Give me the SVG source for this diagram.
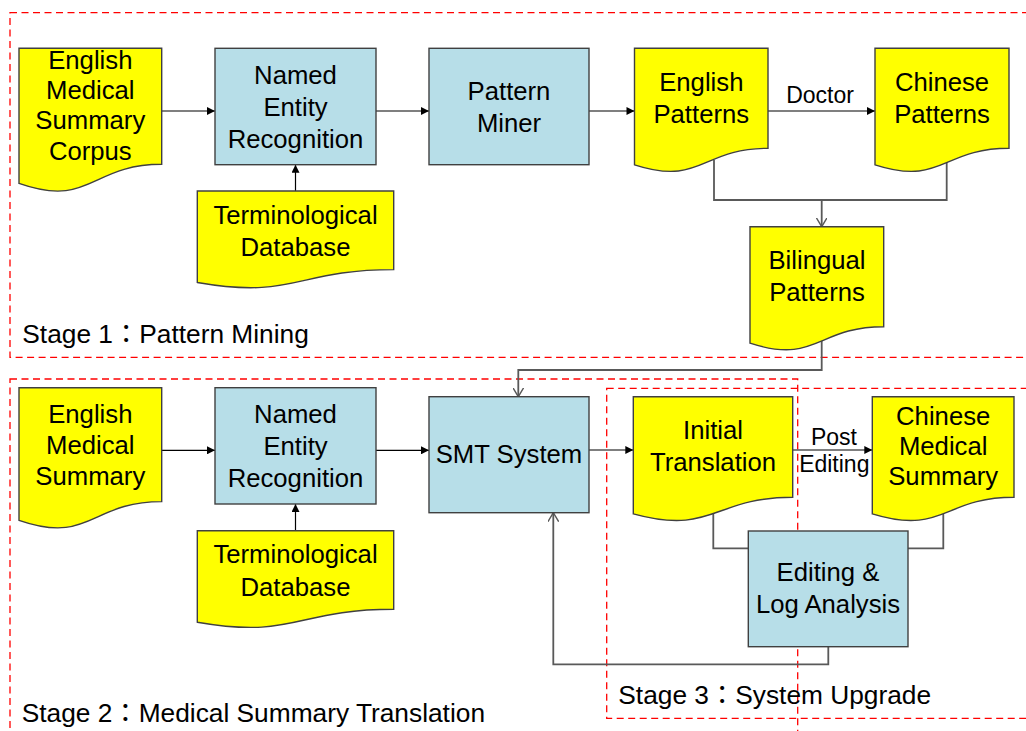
<svg xmlns="http://www.w3.org/2000/svg" width="1026" height="731" viewBox="0 0 1026 731">
<style>
.stage{fill:none;stroke:#FF0000;stroke-width:1.3;stroke-dasharray:7 4.5}
.doc{fill:#FFFF00;stroke:#404040;stroke-width:1.4}
.box{fill:#B7DEE8;stroke:#404040;stroke-width:1.4}
.t{font-family:"Liberation Sans",Arial,sans-serif;font-size:25.7px;fill:#000;text-anchor:middle}
.lbl{font-family:"Liberation Sans",Arial,sans-serif;font-size:23px;fill:#000;text-anchor:middle}
.st{font-family:"Liberation Sans","Noto Sans CJK TC",sans-serif;font-size:26.3px;fill:#000}
.a{fill:none;stroke:#000;stroke-width:1.2;marker-end:url(#fa)}
.g{fill:none;stroke:#595959;stroke-width:1.8}
.go{fill:none;stroke:#595959;stroke-width:1.8;marker-end:url(#oa)}
</style>
<defs>
<marker id="fa" viewBox="0 0 10 10" refX="10" refY="5" markerWidth="9" markerHeight="8" markerUnits="userSpaceOnUse" orient="auto"><path d="M0,0 L10,5 L0,10 z" fill="#000"/></marker>
<marker id="oa" viewBox="0 0 10 12" refX="10" refY="6" markerWidth="9" markerHeight="11" markerUnits="userSpaceOnUse" orient="auto"><path d="M0,0 L10,6 L0,12" fill="none" stroke="#595959" stroke-width="1.6"/></marker>
</defs>
<rect width="1026" height="731" fill="#FFFFFF"/>
<g id="stages">
<rect class="stage" x="10" y="12.7" width="1030" height="344.6"/>
<rect class="stage" x="10" y="379" width="787.7" height="370"/>
<rect class="stage" x="606.7" y="388.3" width="430" height="330"/>
<text class="st" x="22.3" y="343">Stage 1：Pattern Mining</text>
<text class="st" x="21.7" y="722">Stage 2：Medical Summary Translation</text>
<text class="st" x="618.3" y="703.5">Stage 3：System Upgrade</text>
</g>
<g id="connectors">
<path class="a" d="M161.7,111 H215"/>
<path class="a" d="M376,111 H429"/>
<path class="a" d="M589,111 H634.5"/>
<path class="a" d="M768,111 H875"/>
<text class="lbl" x="820" y="103">Doctor</text>
<path class="g" d="M714,160 V200 H946.7 V160"/>
<path class="go" d="M821.7,200 V226.7"/>
<path class="go" d="M821.7,335 V370 H518.3 V396.7"/>
<path class="a" d="M295.5,191 V164.7"/>
<path class="a" d="M161.7,450.3 H215"/>
<path class="a" d="M376,450.3 H429"/>
<path class="a" d="M589,450 H633.3"/>
<path class="a" d="M792.7,450 H872.3"/>
<text class="lbl" x="834" y="445">Post</text>
<text class="lbl" x="834.3" y="472">Editing</text>
<path class="a" d="M295.5,530.7 V504"/>
<path class="g" d="M713.3,505 V548.3 H748.3"/>
<path class="g" d="M943.3,505 V548.3 H908"/>
<path class="go" d="M828.3,646.7 V664.3 H553.3 V512.7"/>
</g>
<g id="corpus">
<path class="doc" d="M19,48.3 H161.7 V164.3 C90.3,164.3 90.3,208.5 19,183.4 Z"/>
<text class="t" x="90.3" y="68.8">English</text>
<text class="t" x="90.3" y="99.1">Medical</text>
<text class="t" x="90.3" y="129.4">Summary</text>
<text class="t" x="90.3" y="159.7">Corpus</text>
</g>
<g id="ner1">
<rect class="box" x="215" y="48.3" width="161" height="116.4"/>
<text class="t" x="295.5" y="83.5">Named</text>
<text class="t" x="295.5" y="115.5">Entity</text>
<text class="t" x="295.5" y="147.5">Recognition</text>
</g>
<g id="miner">
<rect class="box" x="429" y="48.3" width="160" height="116.4"/>
<text class="t" x="509" y="99.5">Pattern</text>
<text class="t" x="509" y="131.5">Miner</text>
</g>
<g id="engpat">
<path class="doc" d="M634.5,48.3 H768 V148.3 C701.3,148.3 701.3,186.4 634.5,164.8 Z"/>
<text class="t" x="701.3" y="90.7">English</text>
<text class="t" x="701.3" y="122.7">Patterns</text>
</g>
<g id="chnpat">
<path class="doc" d="M875,48.3 H1009 V148.3 C942,148.3 942,186.4 875,164.8 Z"/>
<text class="t" x="942" y="90.7">Chinese</text>
<text class="t" x="942" y="122.7">Patterns</text>
</g>
<g id="term1">
<path class="doc" d="M197.3,191 H393.7 V269.6 C295.5,269.6 295.5,299.5 197.3,282.5 Z"/>
<text class="t" x="295.5" y="223.6">Terminological</text>
<text class="t" x="295.5" y="256">Database</text>
</g>
<g id="bilingual">
<path class="doc" d="M750,226.7 H883.7 V326.7 C816.8,326.7 816.8,364.8 750,343.2 Z"/>
<text class="t" x="817" y="269.3">Bilingual</text>
<text class="t" x="817" y="300.7">Patterns</text>
</g>
<g id="ems">
<path class="doc" d="M19,387.7 H161.7 V501.6 C90.3,501.6 90.3,545 19,520.3 Z"/>
<text class="t" x="90.3" y="423.3">English</text>
<text class="t" x="90.3" y="454">Medical</text>
<text class="t" x="90.3" y="484.5">Summary</text>
</g>
<g id="ner2">
<rect class="box" x="215" y="387.7" width="161" height="116.3"/>
<text class="t" x="295.5" y="423">Named</text>
<text class="t" x="295.5" y="455">Entity</text>
<text class="t" x="295.5" y="487">Recognition</text>
</g>
<g id="smt">
<rect class="box" x="429" y="396.7" width="160" height="116"/>
<text class="t" x="509" y="463.3">SMT System</text>
</g>
<g id="term2">
<path class="doc" d="M197.3,530.7 H393.7 V609.3 C295.5,609.3 295.5,639.2 197.3,622.2 Z"/>
<text class="t" x="295.5" y="563.3">Terminological</text>
<text class="t" x="295.5" y="595.7">Database</text>
</g>
<g id="init">
<path class="doc" d="M633.3,396.7 H792.7 V497.3 C713,497.3 713,535.7 633.3,513.9 Z"/>
<text class="t" x="713" y="439.3">Initial</text>
<text class="t" x="713" y="471">Translation</text>
</g>
<g id="cms">
<path class="doc" d="M872.3,396.7 H1014 V497.3 C943.2,497.3 943.2,535.7 872.3,513.9 Z"/>
<text class="t" x="943.2" y="425">Chinese</text>
<text class="t" x="943.2" y="455">Medical</text>
<text class="t" x="943.2" y="485">Summary</text>
</g>
<g id="edit">
<rect class="box" x="748.3" y="531" width="159.7" height="115.7"/>
<text class="t" x="828" y="581">Editing &amp;</text>
<text class="t" x="828" y="613.3">Log Analysis</text>
</g>
</svg>
